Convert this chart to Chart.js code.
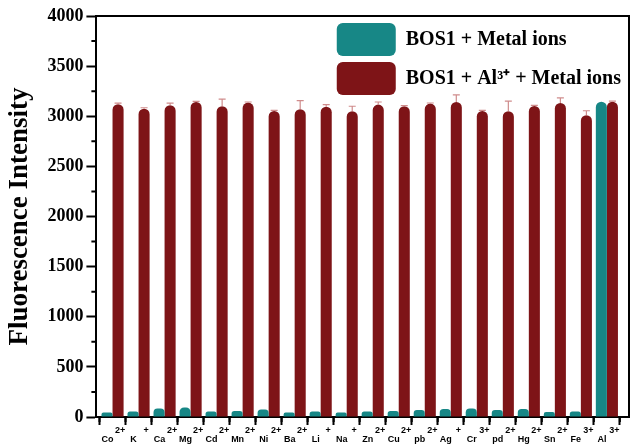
<!DOCTYPE html>
<html>
<head>
<meta charset="utf-8">
<script src="https://cdn.jsdelivr.net/npm/chart.js"></script>
<style>
  html, body { margin: 0; padding: 0; background: #fff; }
  #wrap { width: 630px; height: 445px; }
</style>
</head>
<body>
<div id="wrap"><canvas id="myChart"></canvas></div>
<script>
// metal ions and their charges (charge drawn as superscript line)
var ions = ["Co", "K", "Ca", "Mg", "Cd", "Mn", "Ni", "Ba", "Li", "Na",
            "Zn", "Cu", "pb", "Ag", "Cr", "pd", "Hg", "Sn", "Fe", "Al"];
var charges = ["2+", "+", "2+", "2+", "2+", "2+", "2+", "2+", "+", "+",
               "2+", "2+", "2+", "+", "3+", "2+", "2+", "2+", "3+", "3+"];

// BOS1 + metal ions
var metalOnly = [45, 55, 85, 95, 55, 60, 75, 45, 55, 45,
                 55, 60, 70, 80, 85, 70, 80, 50, 55, 3145];
// BOS1 + Al3+ + metal ions, with error (upper whisker)
var withAl = [3120, 3075, 3110, 3143, 3100, 3137, 3053, 3070, 3095, 3050,
              3117, 3100, 3127, 3143, 3053, 3050, 3103, 3133, 3010, 3145];
var withAlErr = [10, 10, 20, 5, 70, 5, 5, 85, 20, 50,
                 25, 5, 5, 70, 5, 100, 5, 50, 45, 5];

var serif = "'Liberation Serif', 'Times New Roman', serif";
var sans = "'Liberation Sans', Arial, sans-serif";

// error bars + minor ticks, placed through the chart's scales
var extras = {
  id: 'extras',
  afterLayout: function(chart) {
    var lg = chart.legend, ca = chart.chartArea;
    lg.left = ca.right - lg.width + 2;
    lg.right = lg.left + lg.width;
    lg.top = ca.top + 1;
  },
  afterDatasetsDraw: function(chart) {
    var c = chart.ctx, xs = chart.scales.x, ys = chart.scales.y;
    var bars = chart.getDatasetMeta(1).data;
    c.save();
    c.strokeStyle = '#cf8c8c';
    c.lineWidth = 1.2;
    bars.forEach(function(bar, i) {
      if (!withAlErr[i]) return;
      var top = ys.getPixelForValue(withAl[i]);
      var end = ys.getPixelForValue(withAl[i] + withAlErr[i]);
      c.beginPath();
      c.moveTo(bar.x, top);
      c.lineTo(bar.x, end);
      c.moveTo(bar.x - 3.5, end);
      c.lineTo(bar.x + 3.5, end);
      c.stroke();
    });
    c.strokeStyle = '#000';
    c.lineWidth = 2;
    c.beginPath();
    for (var v = 250; v < 4000; v += 500) {
      var py = ys.getPixelForValue(v);
      c.moveTo(ys.right - 5, py);
      c.lineTo(ys.right, py);
    }
    for (var k = 0; k <= ions.length; k++) {
      var px = xs.getPixelForValue(k - 0.5);
      if (px < xs.left + 1 || px > xs.right - 1) continue;
      c.moveTo(px, xs.top);
      c.lineTo(px, xs.top + 5);
    }
    c.stroke();
    c.restore();
  }
};

var ctx = document.getElementById("myChart");
var myChart = new Chart(ctx, {
  type: 'bar',
  data: {
    datasets: [
      {
        label: 'BOS1 + Metal ions',
        data: ions.map(function(n, i) { return {x: i, y: metalOnly[i]}; }),
        backgroundColor: '#178786',
        borderRadius: 6,
        categoryPercentage: 0.85,
        barPercentage: 1.0
      },
      {
        label: 'BOS1 + Al\u00B3\u207A + Metal ions',
        data: ions.map(function(n, i) { return {x: i, y: withAl[i]}; }),
        backgroundColor: '#7e1417',
        borderRadius: 6,
        categoryPercentage: 0.85,
        barPercentage: 1.0
      }
    ]
  },
  options: {
    responsive: true,
    maintainAspectRatio: false,
    animation: false,
    layout: { padding: { top: 16, right: 1, left: 4, bottom: 0 } },
    scales: {
      x: {
        type: 'linear',
        min: -0.62,
        max: 19.85,
        offset: false,
        grid: { drawOnChartArea: false, tickLength: 8, tickWidth: 2, tickColor: '#000' },
        border: { color: '#000', width: 2 },
        ticks: {
          stepSize: 1,
          autoSkip: false,
          maxRotation: 0,
          includeBounds: false,
          padding: 1,
          color: '#000',
          font: { family: sans, size: 9, weight: 'bold', lineHeight: 1.0 },
          callback: function(v) {
            if (Number.isInteger(v) && v >= 0 && v < ions.length) {
              return ['      ' + charges[v], ions[v] + '    '];
            }
            return '';
          }
        }
      },
      y: {
        min: 0,
        max: 4000,
        grid: { drawOnChartArea: false, tickLength: 10, tickWidth: 2, tickColor: '#000' },
        border: { color: '#000', width: 2 },
        ticks: {
          stepSize: 500,
          padding: 3,
          color: '#000',
          font: { family: serif, size: 18, weight: 'bold' },
          callback: function(v) { return String(v); }
        },
        title: {
          display: true,
          text: 'Fluorescence Intensity',
          color: '#000',
          font: { family: serif, size: 27, weight: 'bold' },
          padding: { top: 0, bottom: 8 }
        }
      },
      xTop: {
        type: 'linear',
        position: 'top',
        grid: { drawOnChartArea: false, drawTicks: false },
        border: { color: '#000', width: 2 },
        ticks: { display: false }
      },
      yRight: {
        type: 'linear',
        position: 'right',
        grid: { drawOnChartArea: false, drawTicks: false },
        border: { color: '#000', width: 2 },
        ticks: { display: false }
      }
    },
    plugins: {
      tooltip: { enabled: false },
      legend: {
        display: true,
        position: 'chartArea',
        align: 'start',
        labels: {
          boxWidth: 59,
          boxHeight: 33,
          padding: 6,
          useBorderRadius: true,
          borderRadius: 6,
          color: '#000',
          font: { family: serif, size: 20, weight: 'bold' }
        }
      }
    }
  },
  plugins: [extras]
});
</script>
</body>
</html>
